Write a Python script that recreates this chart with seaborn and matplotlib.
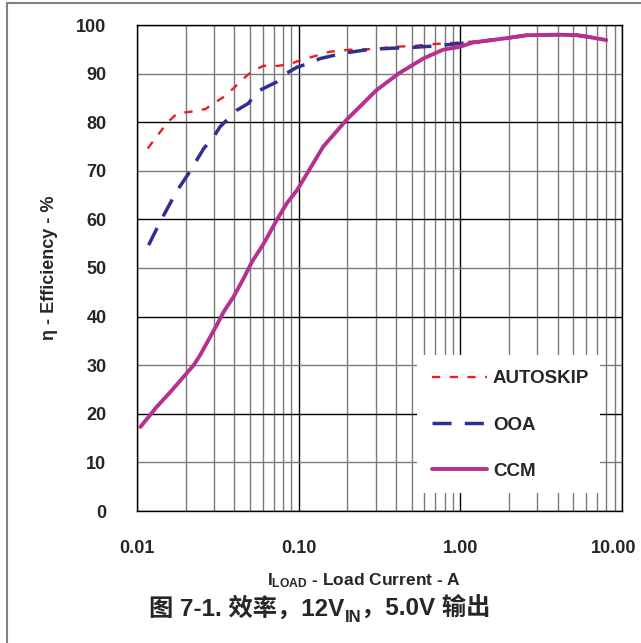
import numpy as np
import pandas as pd
import matplotlib
matplotlib.use('Agg')
import matplotlib.pyplot as plt
import matplotlib.transforms as mtransforms
from matplotlib.ticker import LogLocator, NullFormatter
from matplotlib.patches import Rectangle
from matplotlib.lines import Line2D
import seaborn as sb

sb.set_style('white')
plt.rcParams['font.family'] = ['Liberation Sans', 'Noto Sans CJK SC', 'DejaVu Sans']
plt.rcParams['font.weight'] = 'bold'
plt.rcParams['mathtext.fontset'] = 'custom'
plt.rcParams['mathtext.rm'] = 'Liberation Sans:bold'
plt.rcParams['mathtext.default'] = 'regular'

# efficiency curves (load current in A, efficiency in %)
autoskip_current = [0.01165, 0.0153, 0.0177, 0.0219, 0.0265, 0.0305, 0.0344, 0.0396, 0.0457, 0.0515,
                    0.0607, 0.0754, 0.0908, 0.107, 0.123, 0.156, 0.203, 0.264, 0.318, 0.386,
                    0.51, 0.71, 0.99, 1.2, 1.94, 2.58, 4.0, 5.26, 6.08, 8.0]
autoskip_eff = [74.6, 79.8, 81.8, 82.2, 82.7, 84.1, 85.2, 87.0, 89.0, 90.5,
                91.6, 91.6, 92.1, 93.0, 93.5, 94.5, 94.9, 95.0, 95.2, 95.5,
                95.7, 96.1, 96.4, 96.6, 97.3, 97.9, 98.0, 97.9, 97.6, 96.9]

ooa_current = [0.0118, 0.0139, 0.0169, 0.0181, 0.0209, 0.0259, 0.0298, 0.0327, 0.0416, 0.049,
               0.0553, 0.0637, 0.0733, 0.0844, 0.0976, 0.113, 0.136, 0.189, 0.264, 0.366,
               0.51, 0.71, 0.99, 1.2, 1.94, 2.58, 4.0, 5.26, 6.08, 8.0]
ooa_eff = [54.7, 59.5, 64.7, 66.4, 69.5, 74.6, 77.0, 79.1, 82.5, 83.9,
           86.3, 87.3, 88.3, 90.1, 91.3, 92.0, 93.1, 94.2, 94.9, 95.2,
           95.4, 95.7, 96.2, 96.4, 97.3, 97.9, 98.0, 97.9, 97.6, 96.9]

ccm_current = [0.0105, 0.0133, 0.0161, 0.0194, 0.0224, 0.0246, 0.0277, 0.0312, 0.0344, 0.0396,
               0.0457, 0.0515, 0.0607, 0.0733, 0.0844, 0.0976, 0.113, 0.142, 0.198, 0.303,
               0.419, 0.59, 0.78, 0.99, 1.2, 1.94, 2.58, 4.0, 5.26, 6.08, 8.0]
ccm_eff = [17.3, 21.5, 24.5, 27.6, 30.0, 32.1, 35.2, 38.3, 41.0, 44.1,
           47.9, 51.3, 55.0, 59.9, 63.3, 66.0, 69.5, 75.0, 80.5, 86.6,
           90.1, 93.1, 94.9, 95.5, 96.4, 97.3, 97.9, 98.0, 97.9, 97.6, 96.9]

xticks = [0.01, 0.1, 1, 10]
xtick_labels = ['0.01', '0.10', '1.00', '10.00']
yticks = [0, 10, 20, 30, 40, 50, 60, 70, 80, 90, 100]

fig = plt.figure(figsize=(6.41, 6.43), dpi=100)
ax = fig.add_axes([137/641, 1 - 511/643, 485/641, 486/643])

sb.lineplot(x=autoskip_current, y=autoskip_eff, ax=ax, color='#ED1C24', lw=1.7,
            linestyle=(0, (3.5, 4)), label='AUTOSKIP', zorder=3)
sb.lineplot(x=ooa_current, y=ooa_eff, ax=ax, color='#2E3192', lw=2.5,
            linestyle=(0, (5.5, 3.8)), label='OOA', zorder=4)
sb.lineplot(x=ccm_current, y=ccm_eff, ax=ax, color='#B5308F', lw=2.8,
            label='CCM', zorder=5)

ax.set_xscale('log')
ax.set_xlim(0.01, 10)
ax.set_ylim(0, 100)
ax.set_xticks(xticks)
ax.set_xticklabels(xtick_labels)
ax.xaxis.set_minor_locator(LogLocator(base=10, subs=np.arange(2, 10)))
ax.xaxis.set_minor_formatter(NullFormatter())
ax.set_yticks(yticks)
ax.tick_params(axis='both', which='both', length=0, labelsize=13)
ax.tick_params(axis='y', pad=22)
ax.tick_params(axis='x', pad=21)
ax.set_xlabel('')
ax.set_ylabel('')

# last x label sits a little left so it stays inside the picture
last = ax.get_xticklabels()[-1]
last.set_transform(last.get_transform() +
                   mtransforms.ScaledTranslation(-8/100, 0, fig.dpi_scale_trans))

ax.set_axisbelow(True)
ax.grid(which='major', axis='x', color='black', lw=1)
ax.grid(which='minor', axis='x', color='#7a7a7a', lw=1)
ax.grid(which='major', axis='y', color='black', lw=1)
for i, gl in enumerate(ax.yaxis.get_gridlines()):
    if i % 2 == 1:
        gl.set_color('#7a7a7a')
for sp in ax.spines.values():
    sp.set_color('black')
    sp.set_linewidth(1)

# white box behind the legend
ax.add_patch(Rectangle((0.577, 0.037), 0.378, 0.284, transform=ax.transAxes,
                       facecolor='white', edgecolor='none', zorder=1.5))
leg = ax.legend(loc='center left', bbox_to_anchor=(0.608, 0.177), frameon=False,
                fontsize=13.5, handlelength=2.93, handletextpad=0.32,
                labelspacing=1.55, borderpad=0, borderaxespad=0)
leg.set_zorder(6)

fig.text(50/641, 1 - 268/643, 'η - Efficiency - %', rotation=90, ha='center',
         va='center', fontsize=13)
fig.text(364/641, 1 - 581/643, r'I$_{\mathregular{LOAD}}$ - Load Current - A',
         ha='center', va='center', fontsize=12.5)

# caption with subscript, built from pieces so CJK fallback works
cap_parts = [('图 7-1. 效率，12V', 17.5, 0.0), ('IN', 12, -0.01), ('，5.0V 输出', 17.5, 0.0)]
fig.canvas.draw()
r = fig.canvas.get_renderer()
texts = []
widths = []
for s, size, dy in cap_parts:
    t = fig.text(0, 1 - 616/643 + dy, s, fontsize=size, ha='left', va='baseline')
    texts.append(t)
    widths.append(t.get_window_extent(r).width / fig.bbox.width)
x = 320/641 - sum(widths) / 2
for t, w in zip(texts, widths):
    t.set_x(x)
    x += w

# grey outer frame (top and left edges only visible)
fig.add_artist(Line2D([7/641, 7/641, 1], [0, 1 - 3/643, 1 - 3/643],
                      transform=fig.transFigure, color='#808080', lw=1.5))

fig.savefig('out.png', dpi=100)
